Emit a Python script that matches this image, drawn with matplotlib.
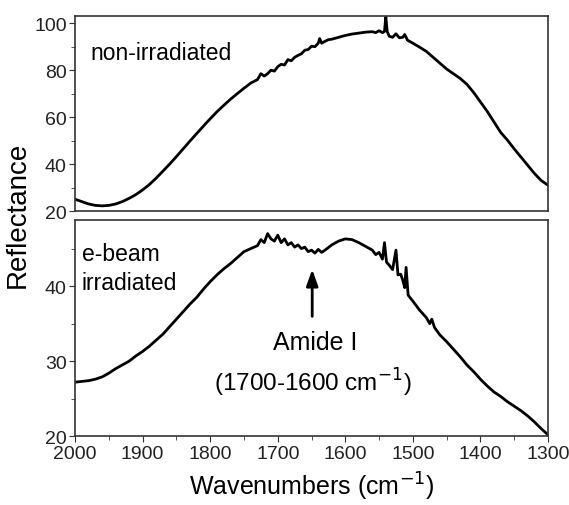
import matplotlib.pyplot as plt
from matplotlib.ticker import MultipleLocator

plt.rcParams['font.family'] = ['Liberation Sans', 'DejaVu Sans']

# non-irradiated spectrum
wn_top = [2000, 1990, 1980, 1970, 1960, 1950, 1940, 1930, 1920, 1910, 1900, 1890, 1880,
          1870, 1860, 1850, 1840, 1830, 1820, 1810, 1800, 1790, 1780, 1770, 1760, 1750,
          1740, 1730, 1725, 1720, 1715, 1710, 1705, 1700, 1695, 1690, 1685, 1680, 1675,
          1670, 1665, 1660, 1655, 1650, 1645, 1640, 1638, 1635, 1630, 1625, 1620, 1610,
          1600, 1590, 1580, 1570, 1560, 1555, 1550, 1545, 1542, 1540, 1538, 1535, 1530,
          1525, 1520, 1515, 1512, 1508, 1500, 1490, 1480, 1470, 1460, 1450, 1440, 1430,
          1420, 1410, 1400, 1390, 1380, 1370, 1360, 1350, 1340, 1330, 1320, 1310, 1300]
refl_top = [25.0, 24.0, 23.0, 22.4, 22.2, 22.4, 23.0, 24.0, 25.4, 27.0, 29.0, 31.3, 34.0,
            37.0, 40.0, 43.2, 46.5, 49.8, 53.0, 56.2, 59.3, 62.3, 65.0, 67.6, 70.0, 72.3,
            74.5, 76.0, 78.5, 77.5, 78.5, 80.0, 79.6, 81.5, 82.5, 82.2, 84.5, 84.0, 85.5,
            86.3, 87.0, 88.5, 88.8, 90.2, 90.0, 91.5, 93.5, 91.5, 92.3, 93.0, 93.2, 94.0,
            94.8, 95.4, 95.8, 96.2, 96.4, 96.0, 96.8, 96.0, 96.5, 102.8, 96.5, 94.5, 94.0,
            95.5, 93.8, 94.0, 95.2, 92.8, 91.5, 89.8, 88.0, 85.5, 83.0, 80.5, 78.5, 76.5,
            74.0, 70.5, 66.5, 62.5, 58.0, 53.5, 50.2, 46.5, 43.0, 39.5, 36.0, 33.0, 31.0]

# e-beam irradiated spectrum
wn_bot = [2000, 1990, 1980, 1970, 1960, 1950, 1940, 1930, 1920, 1910, 1900, 1890, 1880,
          1870, 1860, 1850, 1840, 1830, 1820, 1810, 1800, 1790, 1780, 1770, 1760, 1750,
          1740, 1730, 1725, 1720, 1715, 1710, 1705, 1700, 1695, 1690, 1685, 1680, 1675,
          1670, 1665, 1660, 1655, 1650, 1645, 1640, 1635, 1630, 1620, 1610, 1600, 1590,
          1580, 1570, 1560, 1555, 1550, 1545, 1542, 1539, 1535, 1530, 1525, 1522, 1518,
          1515, 1512, 1510, 1507, 1500, 1490, 1480, 1475, 1472, 1468, 1460, 1450, 1440,
          1430, 1420, 1410, 1400, 1390, 1380, 1370, 1360, 1350, 1340, 1330, 1320, 1310, 1300]
refl_bot = [27.2, 27.3, 27.4, 27.6, 27.9, 28.4, 29.0, 29.5, 30.0, 30.7, 31.3, 32.0, 32.8,
            33.6, 34.6, 35.6, 36.6, 37.6, 38.5, 39.6, 40.6, 41.5, 42.3, 43.0, 43.8, 44.6,
            45.0, 45.4, 46.2, 45.8, 47.0, 46.3, 46.0, 46.8, 45.8, 46.3, 45.5, 45.8, 45.2,
            45.5, 45.0, 45.2, 44.6, 44.8, 44.4, 44.9, 44.5, 44.8, 45.5, 46.0, 46.3, 46.2,
            45.8, 45.3, 44.8, 44.2, 44.5, 43.6, 45.8, 43.2, 42.8, 42.2, 44.8, 41.5, 41.6,
            40.8, 39.8, 42.5, 38.8, 38.0, 36.8, 35.8, 35.0, 35.6, 34.5, 33.5, 32.6, 31.6,
            30.6, 29.5, 28.6, 27.6, 26.7, 25.9, 25.3, 24.6, 24.0, 23.4, 22.7, 21.9, 21.0, 20.2]

fig = plt.figure(figsize=(5.69, 5.06), dpi=100)
ax1 = fig.add_axes([0.132, 0.581, 0.831, 0.385])
ax2 = fig.add_axes([0.132, 0.136, 0.831, 0.427])

edge = '#333333'
for ax in (ax1, ax2):
    for sp in ax.spines.values():
        sp.set_color(edge)
        sp.set_linewidth(1.2)
    ax.set_xlim(2000, 1300)
    ax.xaxis.set_major_locator(MultipleLocator(100))
    ax.xaxis.set_minor_locator(MultipleLocator(50))
    ax.tick_params(axis='both', which='both', direction='out', colors=edge,
                   labelcolor='#222222', labelsize=14, top=False, right=False, pad=2)
    ax.tick_params(which='major', length=4)
    ax.tick_params(which='minor', length=3)

ax1.plot(wn_top, refl_top, color='black', lw=2)
ax1.set_ylim(20, 103)
ax1.yaxis.set_major_locator(MultipleLocator(20))
ax1.yaxis.set_minor_locator(MultipleLocator(10))
ax1.tick_params(axis='x', which='both', bottom=False, labelbottom=False)
ax1.text(1978, 87.5, 'non-irradiated', fontsize=16.5, va='center', ha='left')

ax2.plot(wn_bot, refl_bot, color='black', lw=2)
ax2.set_ylim(20, 48.8)
ax2.yaxis.set_major_locator(MultipleLocator(10))
ax2.yaxis.set_minor_locator(MultipleLocator(5))
ax2.text(1990, 44.4, 'e-beam', fontsize=16.5, va='center', ha='left')
ax2.text(1990, 40.5, 'irradiated', fontsize=16.5, va='center', ha='left')
ax2.annotate('', xy=(1649, 42.6), xytext=(1649, 35.6),
             arrowprops=dict(arrowstyle='-|>,head_length=0.7,head_width=0.25',
                             color='black', lw=2, mutation_scale=14))
ax2.text(1645, 32.5, 'Amide I', fontsize=18, ha='center', va='center')
ax2.text(1648, 27.2, '(1700-1600 cm$^{-1}$)', fontsize=17.5, ha='center', va='center')
ax2.set_xlabel('Wavenumbers (cm$^{-1}$)', fontsize=18, labelpad=6)

fig.text(0.032, 0.575, 'Reflectance', rotation=90, fontsize=20, ha='center', va='center')

fig.savefig('out.png', dpi=100, facecolor='white')
